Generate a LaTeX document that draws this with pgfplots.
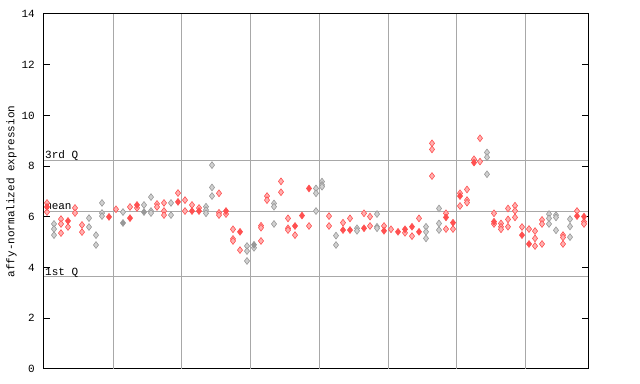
\documentclass[border=0pt]{standalone}
\usepackage{pgfplots}
\pgfplotsset{compat=1.18}
\usepackage{fontspec}
\setmainfont{Liberation Mono}
\definecolor{rdraw}{HTML}{FF5050}
\definecolor{rfill}{HTML}{FFB0B0}
\definecolor{gdraw}{HTML}{989898}
\definecolor{gfill}{HTML}{D0D0D0}
\definecolor{gridc}{HTML}{A8A8A8}
\begin{document}
\fontsize{11bp}{13bp}\selectfont
\begin{tikzpicture}
\useasboundingbox (-44bp,-15bp) rectangle (596bp,369bp);
\begin{axis}[
  at={(0,0)}, anchor=south west,
  scale only axis, width=544bp, height=355bp,
  xmin=44, xmax=588, ymin=0, ymax=14,
  xtick=\empty,
  ytick={0,2,...,14},
  tick align=inside,
  major tick length=6bp,
  yticklabel pos=left,
  yticklabel style={anchor=east, inner sep=0pt, xshift=-9bp},
  /pgf/number format/assume math mode=true,
  tick style={black, line width=1bp},
  axis line style={black, line width=1bp},
  extra x ticks={113,181,250,319,388,456,525},
  extra x tick labels={},
  extra x tick style={grid=major, major tick length=0pt, grid style={gridc, line width=1bp}},
  extra y ticks={3.63,6.22,8.24},
  extra y tick labels={},
  extra y tick style={grid=major, major tick length=0pt, grid style={gridc, line width=1bp}},
  ylabel={affy-normalized expression},
  ylabel style={at={(axis description cs:0,0.5)}, anchor=center, yshift=32.5bp},
  clip=false,
]
\addplot[only marks, mark=diamond*, mark size=3.4bp, mark options={draw=gdraw, fill=gfill, line width=0.6bp}] coordinates {
(54,5.72)(54,5.52)(54,5.28)
(89,5.95)(89,5.60)
(96,5.28)(96,4.89)
(102,6.55)(102,6.15)(102,6.03)
(123,6.19)
(144,6.47)
(151,6.78)(151,6.23)(151,6.15)
(171,6.55)(171,6.07)
(206,6.40)(206,6.27)(206,6.14)
(212,8.04)(212,7.16)(212,6.82)
(247,4.85)(247,4.65)(247,4.26)
(254,4.78)
(274,6.53)(274,6.40)(274,5.72)
(316,7.12)(316,6.93)(316,6.23)
(322,7.39)(322,7.26)(322,7.19)
(336,5.26)(336,4.89)
(357,5.55)(357,5.45)
(377,6.11)(377,5.61)(377,5.55)
(426,5.61)(426,5.41)(426,5.15)
(439,6.33)(439,5.74)(439,5.48)
(487,8.54)(487,8.35)(487,7.68)
(549,6.11)(549,5.94)(549,5.72)
(556,6.07)(556,5.98)(556,5.47)
(570,5.91)(570,5.62)(570,5.20)
};
\addplot[only marks, mark=diamond*, mark size=3.4bp, mark options={draw=gdraw, fill=gdraw, line width=0.6bp}] coordinates {
(123,5.76)(144,6.19)(254,4.90)
};
\addplot[only marks, mark=diamond*, mark size=3.4bp, mark options={draw=rdraw, fill=rfill, line width=0.6bp}] coordinates {
(47,6.55)(47,6.19)
(61,5.91)(61,5.72)(61,5.36)
(68,5.60)
(75,6.35)(75,6.15)
(82,5.68)(82,5.40)
(116,6.30)
(130,6.39)
(137,6.35)
(157,6.51)(157,6.39)
(164,6.55)(164,6.23)(164,6.07)
(178,6.94)
(185,6.66)(185,6.23)
(192,6.47)
(199,6.35)
(219,6.93)(219,6.16)(219,6.07)
(226,6.11)
(233,5.51)(233,5.13)(233,5.05)
(240,4.69)
(261,5.65)(261,5.57)(261,5.05)
(267,6.82)(267,6.66)
(281,7.40)(281,6.97)
(288,5.94)(288,5.55)(288,5.48)
(295,5.28)
(309,5.64)
(329,6.03)(329,5.64)
(343,5.77)
(350,5.94)
(364,6.14)
(370,6.01)(370,5.64)
(384,5.64)
(391,5.51)
(405,5.37)
(412,5.24)
(419,5.94)
(432,8.90)(432,8.66)(432,7.61)
(446,6.14)(446,5.52)
(453,5.52)
(460,6.93)(460,6.43)
(467,7.08)(467,6.66)(467,6.56)
(474,8.27)
(480,9.10)(480,8.18)
(494,6.14)(494,5.72)
(501,5.74)(501,5.61)(501,5.51)
(508,6.33)(508,5.90)(508,5.61)
(515,6.44)(515,6.24)(515,5.98)
(522,5.60)
(529,5.52)
(535,5.44)(535,5.15)(535,4.85)
(542,5.88)(542,5.72)(542,4.93)
(563,5.28)(563,5.19)(563,4.93)
(577,6.23)
(584,5.81)(584,5.72)
};
\addplot[only marks, mark=diamond*, mark size=3.4bp, mark options={draw=rdraw, fill=rdraw, line width=0.6bp}] coordinates {
(47,6.39)(68,5.84)(109,6.00)(130,5.95)(137,6.47)(178,6.59)(192,6.23)(199,6.23)(226,6.23)(240,5.41)(295,5.64)(302,6.05)(309,7.12)(343,5.48)(350,5.48)(364,5.55)(384,5.45)(398,5.41)(405,5.51)(412,5.61)(419,5.41)(446,5.98)(453,5.77)(460,6.82)(474,8.14)(494,5.81)(522,5.28)(529,4.93)(577,6.03)(584,6.01)
};
\node[anchor=base west, inner sep=0pt] at (axis cs:45,8.24) [yshift=1.5bp] {3rd Q};
\node[anchor=base west, inner sep=0pt] at (axis cs:45,6.22) [yshift=1.5bp] {mean};
\node[anchor=base west, inner sep=0pt] at (axis cs:45,3.63) [yshift=1.5bp] {1st Q};
\end{axis}
\end{tikzpicture}
\end{document}
